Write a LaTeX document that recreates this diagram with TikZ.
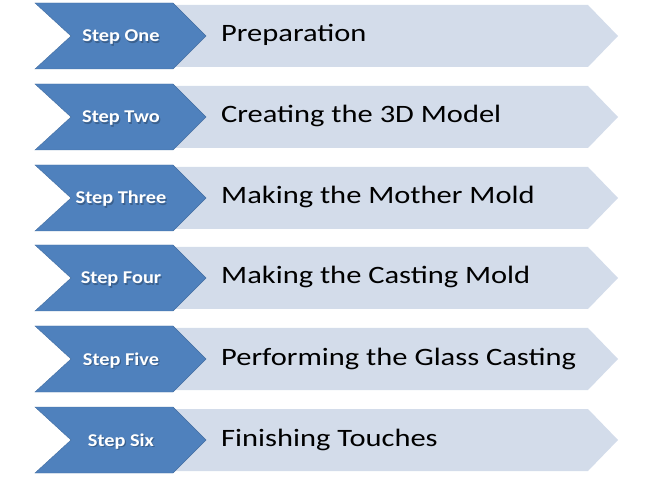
\documentclass[tikz,border=0pt]{standalone}
\usepackage{fontspec}
\setmainfont{Carlito}
\newfontfamily\descfont[FakeStretch=1.22]{Carlito}
\newfontfamily\labfont[FakeStretch=1.13]{Carlito}
\definecolor{chev}{RGB}{79,129,189}
\definecolor{lite}{RGB}{211,220,234}
\tikzset{
  chevshape/.style={fill=chev, draw=chev!85!black, line width=0.4pt},
  liteshape/.style={fill=lite, draw=none},
  steplabel/.style={text=white, font=\labfont\bfseries\fontsize{18}{20}\selectfont, anchor=base, inner sep=0pt},
  stepshadow/.style={text=chev!45!black, opacity=0.45, font=\labfont\bfseries\fontsize{18}{20}\selectfont, anchor=base, inner sep=0pt},
  desclabel/.style={text=black, font=\descfont\fontsize{25}{30}\selectfont, anchor=base west, inner sep=0pt}
}
\begin{document}
\begin{tikzpicture}[x=1pt,y=-1pt]
\useasboundingbox (0,0) rectangle (648,478);
\foreach \yc/\s/\d [count=\i] in {36/Step One/Preparation, 117/Step Two/Creating the 3D Model, 198/Step Three/Making the Mother Mold, 278/Step Four/Making the Casting Mold, 359/Step Five/Performing the Glass Casting, 440/Step Six/Finishing Touches}{
  \path[liteshape] (150,\yc-31) -- (588,\yc-31) -- (618,\yc) -- (588,\yc+31) -- (150,\yc+31) -- cycle;
  \path[chevshape] (35,\yc-33) -- (173,\yc-33) -- (206,\yc) -- (173,\yc+33) -- (35,\yc+33) -- (71,\yc) -- cycle;
  \node[stepshadow] (h\i) at (122.2,\yc+7.2) {\s};
  \node[steplabel] (s\i) at (121,\yc+6) {\s};
  \node[desclabel] (d\i) at (221,\yc+6) {\d};
}
\end{tikzpicture}
\end{document}
